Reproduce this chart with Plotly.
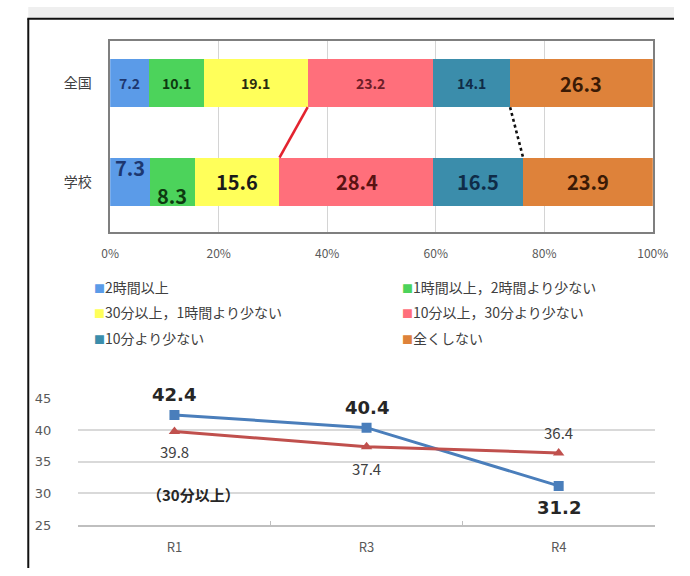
import plotly.graph_objects as go

W, H = 690, 576
FONT = "Noto Sans CJK JP"

# ---------------- data ----------------
groups = ["全国", "学校"]
segments = ["2時間以上", "1時間以上，2時間より少ない", "30分以上，1時間より少ない",
            "10分以上，30分より少ない", "10分より少ない", "全くしない"]
zenkoku = [7.2, 10.1, 19.1, 23.2, 14.1, 26.3]
gakko = [7.3, 8.3, 15.6, 28.4, 16.5, 23.9]
seg_colors = ["#5B9BE8", "#4CD35B", "#FFFF5A", "#FF6F7B", "#3B8DAB", "#DE823A"]

years = ["R1", "R3", "R4"]
school_30 = [42.4, 40.4, 31.2]
national_30 = [39.8, 37.4, 36.4]
pct_ticks = [0, 20, 40, 60, 80, 100]
line_ticks = [25, 30, 35, 40, 45]


def px(x):
    return x / W


def py(y):
    return 1 - y / H


fig = go.Figure()

# ---------------- stacked bars ----------------
ypos = [1, 0]  # 全国 on top, 学校 below
BW = 0.49
for i, name in enumerate(segments):
    fig.add_trace(go.Bar(
        x=[zenkoku[i], gakko[i]], y=ypos, orientation="h", name=name,
        marker=dict(color=seg_colors[i], line=dict(width=0)),
        width=BW, showlegend=False, xaxis="x", yaxis="y", hoverinfo="skip"))

# connector lines (cumulative 30分以上 and 10分以上 boundaries)
cz = [sum(zenkoku[:k + 1]) for k in range(len(zenkoku))]
cg = [sum(gakko[:k + 1]) for k in range(len(gakko))]
fig.add_trace(go.Scatter(x=[cz[2], cg[2]], y=[1 - BW / 2, BW / 2], mode="lines",
                         line=dict(color="#E3232F", width=2.6), showlegend=False,
                         xaxis="x", yaxis="y", hoverinfo="skip"))
fig.add_trace(go.Scatter(x=[cz[4], cg[4]], y=[1 - BW / 2, BW / 2], mode="lines",
                         line=dict(color="#111111", width=2.6, dash="dot"), showlegend=False,
                         xaxis="x", yaxis="y", hoverinfo="skip"))

ann = []
# bar value labels
z_colors = ["#1D3770", "#0D3A10", "#2A2A10", "#6E1E28", "#0F2C48", "#3A1A05"]
z_sizes = [14, 14, 14, 14, 14, 20]
g_colors = ["#1D3770", "#0D3A10", "#1A1A1A", "#5A1212", "#0F2C48", "#3A1A05"]
g_sizes = [20, 20, 20, 20, 20, 20]
g_shift = [14, -14, 0, 0, 0, 0]
for i in range(len(segments)):
    zc = cz[i] - zenkoku[i] / 2
    gc = cg[i] - gakko[i] / 2
    ann.append(dict(x=zc, y=1, xref="x", yref="y", text=f"{zenkoku[i]:.1f}",
                    showarrow=False,
                    font=dict(family=FONT, size=z_sizes[i], color=z_colors[i], weight="bold")))
    ann.append(dict(x=gc, y=0, xref="x", yref="y", text=f"{gakko[i]:.1f}",
                    showarrow=False,
                    font=dict(family=FONT, size=g_sizes[i], color=g_colors[i], weight="bold"),
                    yshift=g_shift[i]))

# legend (two columns, three rows)
leg_rows_y = [287, 313, 340]
leg_cols_x = [86, 406]
for k, name in enumerate(segments):
    r, c = divmod(k, 2)
    ann.append(dict(x=px(leg_cols_x[c]), y=py(leg_rows_y[r]), xref="paper", yref="paper",
                    xanchor="left", yanchor="middle", showarrow=False,
                    text=f"<span style='color:{seg_colors[k]};font-size:11px'>■</span>{name}",
                    font=dict(family=FONT, size=14, color="#404040")))

# ---------------- line chart ----------------
fig.add_trace(go.Scatter(x=years, y=school_30, mode="lines+markers",
                         line=dict(color="#4A7EBB", width=3),
                         marker=dict(symbol="square", size=10, color="#4A7EBB"),
                         showlegend=False, xaxis="x2", yaxis="y2", hoverinfo="skip"))
fig.add_trace(go.Scatter(x=years, y=national_30, mode="lines+markers",
                         line=dict(color="#C0504D", width=3),
                         marker=dict(symbol="triangle-up", size=10, color="#C0504D"),
                         showlegend=False, xaxis="x2", yaxis="y2", hoverinfo="skip"))

school_shift = [20, 20, -22]
national_shift = [-20, -22, 20]
for i, yr in enumerate(years):
    ann.append(dict(x=yr, y=school_30[i], xref="x2", yref="y2", text=f"{school_30[i]:.1f}",
                    showarrow=False, yshift=school_shift[i],
                    font=dict(family="DejaVu Sans", size=18, color="#262626", weight="bold")))
    ann.append(dict(x=yr, y=national_30[i], xref="x2", yref="y2", text=f"{national_30[i]:.1f}",
                    showarrow=False, yshift=national_shift[i],
                    font=dict(family=FONT, size=15, color="#404040")))
ann.append(dict(x=px(141), y=py(513), xref="paper", yref="paper", text="（30分以上）",
                showarrow=False, font=dict(family=FONT, size=15, color="#262626", weight="bold")))

# frame shapes (document border)
shapes = [
    dict(type="rect", xref="paper", yref="paper", x0=px(20), x1=1, y0=py(12), y1=1,
         fillcolor="#EFEFEF", line=dict(width=0), layer="below"),
    dict(type="line", xref="paper", yref="paper", x0=px(19), x1=1, y0=py(12), y1=py(12),
         line=dict(color="#111111", width=2)),
    dict(type="line", xref="paper", yref="paper", x0=px(20), x1=px(20), y0=0, y1=py(12),
         line=dict(color="#111111", width=2)),
]

fig.update_layout(
    width=W, height=H, margin=dict(l=0, r=0, t=0, b=0),
    paper_bgcolor="white", plot_bgcolor="white",
    barmode="stack", bargap=0,
    font=dict(family=FONT),
    annotations=ann, shapes=shapes,
    xaxis=dict(domain=[px(105), px(668)], range=[0, 100], tickvals=pct_ticks,
               ticktext=[f"{t}%" for t in pct_ticks], showgrid=True, gridcolor="#D4D4D4",
               gridwidth=1, showline=True, linecolor="#7F7F7F", linewidth=1.5, mirror=True,
               zeroline=False, ticks="", ticklabelstandoff=10,
               tickfont=dict(family=FONT, size=12, color="#595959"), anchor="y"),
    yaxis=dict(domain=[py(231), py(35)], range=[-0.507, 1.424], tickvals=ypos,
               ticktext=groups, showgrid=False, showline=True, linecolor="#7F7F7F",
               linewidth=1.5, mirror=True, zeroline=False, ticks="", ticklabelstandoff=14,
               tickfont=dict(family=FONT, size=14, color="#404040"), anchor="x"),
    xaxis2=dict(domain=[px(72), px(670)], type="category", categoryorder="array",
                categoryarray=years, range=[-0.5, 2.5], tickson="boundaries", ticks="inside",
                ticklen=4, tickcolor="#BFBFBF", showline=True, linecolor="#BFBFBF", linewidth=1.5,
                showgrid=False, zeroline=False, ticklabelstandoff=10,
                tickfont=dict(family=FONT, size=13, color="#595959"), anchor="y2"),
    yaxis2=dict(domain=[py(532), py(402)], range=[25, 45], tickvals=line_ticks,
                showgrid=True, gridcolor="#D9D9D9", gridwidth=1.5, showline=False,
                zeroline=False, ticks="", ticklabelstandoff=26,
                tickfont=dict(family="DejaVu Sans", size=13, color="#595959"), anchor="x2"),
)

fig.write_html("out.html")
